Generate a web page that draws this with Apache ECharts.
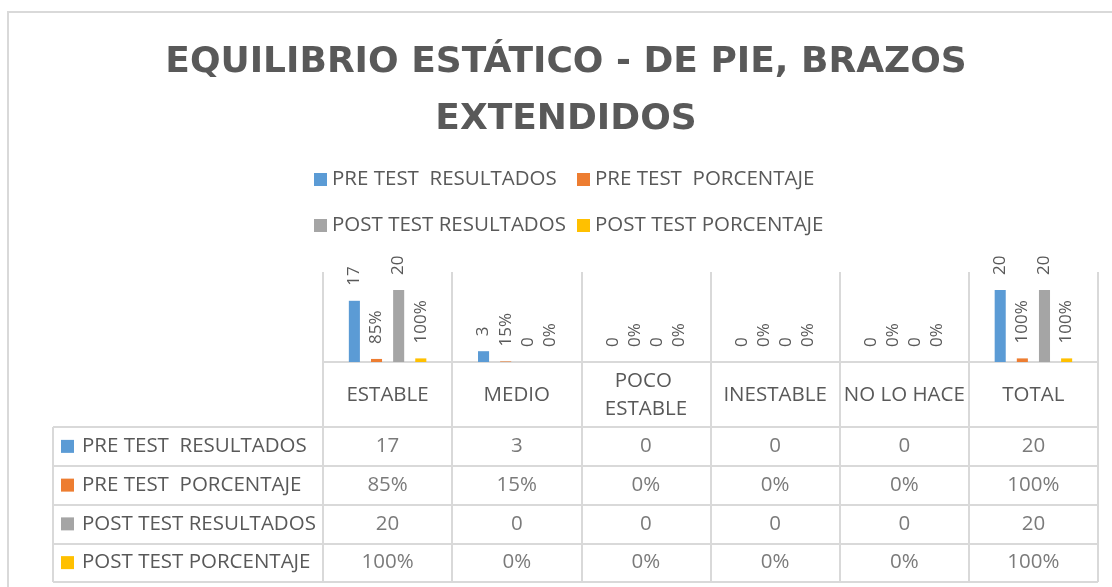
<!DOCTYPE html>
<html>
<head>
<meta charset="utf-8">
<script src="https://cdn.jsdelivr.net/npm/echarts@6/dist/echarts.min.js"></script>
<style>
  html, body { margin: 0; padding: 0; background: #ffffff; }
  #chart { width: 1112px; height: 587px; }
</style>
</head>
<body>
<div id="chart"></div>
<script>
// Categories and series values
const categories = ['ESTABLE', 'MEDIO', 'POCO ESTABLE', 'INESTABLE', 'NO LO HACE', 'TOTAL'];
const seriesNames = ['PRE TEST  RESULTADOS', 'PRE TEST  PORCENTAJE', 'POST TEST RESULTADOS', 'POST TEST PORCENTAJE'];
const preResultados = [17, 3, 0, 0, 0, 20];
const prePorcentaje = [0.85, 0.15, 0, 0, 0, 1];
const postResultados = [20, 0, 0, 0, 0, 20];
const postPorcentaje = [1, 0, 0, 0, 0, 1];
const isPercent = [false, true, false, true];
const titleText = 'EQUILIBRIO ESTÁTICO - DE PIE, BRAZOS\nEXTENDIDOS';

const seriesValues = [preResultados, prePorcentaje, postResultados, postPorcentaje];
const colors = ['#5B9BD5', '#ED7D31', '#A5A5A5', '#FFC000'];
const textColor = '#595959';
const lineColor = '#D9D9D9';
const font = '"Open Sans", "Noto Sans", sans-serif';
const textSize = 20.5;

function fmt(v, pct) {
  return pct ? Math.round(v * 100) + '%' : String(v);
}

const chart = echarts.init(document.getElementById('chart'), null, { renderer: 'canvas' });

// Bar series (grid 0)
const barSeries = seriesValues.map((vals, i) => ({
  name: seriesNames[i],
  type: 'bar',
  xAxisIndex: 0,
  yAxisIndex: 0,
  data: vals,
  barGap: '100%',
  barCategoryGap: '40%',
  itemStyle: { color: colors[i] },
  label: {
    show: true,
    position: 'top',
    rotate: 90,
    align: 'left',
    verticalAlign: 'middle',
    distance: 15,
    fontFamily: font,
    fontSize: 17,
    color: textColor,
    formatter: p => fmt(p.value, isPercent[i])
  }
}));

// Data table cells (grid 2)
const cellData = [];
seriesValues.forEach((vals, r) => {
  vals.forEach((v, c) => cellData.push([c, r, v, isPercent[r] ? 1 : 0]));
});

const richKeys = { t: { padding: [0, 0, 0, 8], fontFamily: font, fontSize: textSize, color: textColor } };
colors.forEach((c, i) => { richKeys['k' + i] = { width: 13, height: 13, backgroundColor: c }; });

const gridLine = { show: true, interval: 0, lineStyle: { color: lineColor, width: 2 } };

const legendBase = {
  orient: 'vertical',
  top: 169,
  padding: 0,
  icon: 'rect',
  itemWidth: 13,
  itemHeight: 13,
  itemGap: 25,
  textStyle: { fontFamily: font, fontSize: textSize, lineHeight: 20, color: textColor }
};

const option = {
  animation: false,
  backgroundColor: '#ffffff',
  title: {
    text: titleText,
    left: 566,
    textAlign: 'center',
    top: 34,
    padding: 0,
    textStyle: {
      fontFamily: '"DejaVu Sans", sans-serif',
      fontWeight: 'bold',
      fontSize: 36,
      lineHeight: 57,
      color: textColor
    }
  },
  legend: [
    Object.assign({ data: [seriesNames[0], seriesNames[2]], left: 314 }, legendBase),
    Object.assign({ data: [seriesNames[1], seriesNames[3]], left: 577 }, legendBase)
  ],
  grid: [
    { left: 323, right: 14, top: 272, height: 90 },   // bars
    { left: 323, right: 14, top: 362, height: 65 },   // category header band
    { left: 323, right: 14, top: 427, bottom: 5 },    // table values
    { left: 53, width: 270, top: 427, bottom: 5 }     // table row labels
  ],
  xAxis: [
    {
      gridIndex: 0,
      type: 'category',
      data: categories,
      axisLine: { show: true, lineStyle: { color: lineColor, width: 2 } },
      axisTick: { show: false },
      splitLine: gridLine,
      axisLabel: {
        interval: 0,
        margin: 33,
        verticalAlign: 'middle',
        fontFamily: font,
        fontSize: textSize,
        lineHeight: 28,
        color: textColor,
        width: 127,
        overflow: 'break'
      }
    },
    {
      gridIndex: 1,
      type: 'category',
      data: categories,
      axisLine: { show: false },
      axisTick: { show: false },
      axisLabel: { show: false },
      splitLine: gridLine
    },
    {
      gridIndex: 2,
      type: 'category',
      data: categories,
      axisLine: { show: false },
      axisTick: { show: false },
      axisLabel: { show: false },
      splitLine: gridLine
    },
    {
      gridIndex: 3,
      type: 'category',
      data: [''],
      axisLine: { show: false },
      axisTick: { show: false },
      axisLabel: { show: false },
      splitLine: gridLine
    }
  ],
  yAxis: [
    { gridIndex: 0, type: 'value', min: 0, max: 25, show: false },
    { gridIndex: 1, type: 'value', show: false },
    {
      gridIndex: 2,
      type: 'category',
      data: seriesNames,
      inverse: true,
      axisLine: { show: false },
      axisTick: { show: false },
      axisLabel: { show: false },
      splitLine: gridLine
    },
    {
      gridIndex: 3,
      type: 'category',
      data: seriesNames,
      inverse: true,
      axisLine: { show: false },
      axisTick: { show: false },
      splitLine: gridLine,
      axisLabel: {
        inside: true,
        margin: 8,
        align: 'left',
        formatter: (v, i) => '{k' + i + '|}{t|' + v + '}',
        rich: richKeys
      }
    }
  ],
  series: barSeries.concat([
    {
      type: 'scatter',
      xAxisIndex: 2,
      yAxisIndex: 2,
      data: cellData,
      symbolSize: 1,
      itemStyle: { color: 'rgba(0,0,0,0)' },
      silent: true,
      label: {
        show: true,
        position: 'inside',
        fontFamily: font,
        fontSize: textSize,
        color: textColor,
        formatter: p => fmt(p.value[2], p.value[3] === 1)
      }
    }
  ]),
  graphic: [
    {
      type: 'rect',
      silent: true,
      shape: { x: 8, y: 12, width: 1200, height: 700 },
      style: { fill: 'none', stroke: lineColor, lineWidth: 2 }
    }
  ]
};

chart.setOption(option);
</script>
</body>
</html>
